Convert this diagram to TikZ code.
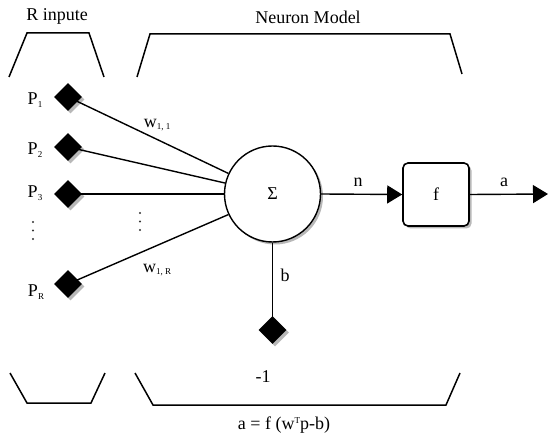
\documentclass[tikz,border=0pt]{standalone}
\usepackage{fontspec}
\setmainfont{Liberation Serif}
\usetikzlibrary{shapes.geometric,arrows.meta,shadows}
% small lowered / raised indices for labels
\newcommand{\lowidx}[1]{\raisebox{-2.5pt}{\fontsize{9}{9}\selectfont #1}}
\newcommand{\highidx}[1]{\raisebox{6pt}{\fontsize{9}{9}\selectfont #1}}
\begin{document}
\begin{tikzpicture}[x=1pt,y=-1pt,
  every node/.style={font=\fontsize{18}{20}\selectfont, inner sep=0pt},
  wire/.style={line width=1.4pt},
  bracket/.style={line width=1.5pt, line join=miter},
  gshadow/.style={drop shadow={shadow xshift=2.5pt,shadow yshift=-2.5pt,fill=black!28,opacity=1}},
  port/.style={diamond, fill=black, minimum width=28pt, minimum height=28pt, aspect=1, gshadow},
  arrowhead/.style={-{Triangle[length=15pt,width=18pt]}},
  ellipsis dot/.style={fill=black!80},
]
\useasboundingbox (0,0) rectangle (548,435);

% group brackets and their titles
\node (title-in) at (57,16) {R inpute};
\node (title-model) at (308,17) {Neuron Model};
\draw[bracket] (9,77) -- (27,33) -- (89,33) -- (104,77);
\draw[bracket] (137,77) -- (150,34) -- (450,34) -- (462,74);
\draw[bracket] (10,373) -- (27,403) -- (91,403) -- (105,373);
\draw[bracket] (135,373) -- (153,405) -- (446,405) -- (460,373);

% summing junction and transfer function
\node[circle, draw, line width=1.4pt, fill=white, minimum size=96pt, gshadow] (sum) at (272.5,194) {Σ};
\node[draw, rounded corners=5pt, line width=1.6pt, fill=white, minimum width=66pt, minimum height=63pt, gshadow] (f) at (436,194.5) {f};
\coordinate (out) at (548,194);

% input ports
\node[port] (d1) at (68,97) {};
\node[port] (d2) at (68,147) {};
\node[port] (d3) at (68,194) {};
\node[port] (dR) at (68,284) {};
\node[port] (db) at (272.5,330) {};

% weighted inputs
\draw[wire] (d1.center) -- (sum.155);
\draw[wire] (d2.center) -- (sum.167);
\draw[wire] (d3.center) -- (sum.180);
\draw[wire] (dR.center) -- (sum.205);
\draw[wire] (sum.south) -- (db.center);
\draw[wire, arrowhead] (sum.east) -- (f.west);
\draw[wire, arrowhead] (f.east) -- (out);

% vertical ellipses between the listed inputs
\foreach \y in {222,230.5,239} \fill[ellipsis dot] (33,\y) circle (1.1pt);
\foreach \y in {213,221.5,230} \fill[ellipsis dot] (140,\y) circle (1.1pt);

% labels
\node (p1) at (35,100) {P\lowidx{1}};
\node (p2) at (35,150) {P\lowidx{2}};
\node (p3) at (35,193) {P\lowidx{3}};
\node (pR) at (36,292) {P\lowidx{R}};
\node (w11) at (157,125) {w\lowidx{1, 1}};
\node (w1R) at (157,270) {w\lowidx{1, R}};
\node (lbl-n) at (358,182) {n};
\node (lbl-a) at (504,182) {a};
\node (lbl-b) at (285,275) {b};
\node (lbl-m1) at (263,377) {-1};
\node (formula) at (284,425) {a = f (w\highidx{T}p-b)};
\end{tikzpicture}
\end{document}
